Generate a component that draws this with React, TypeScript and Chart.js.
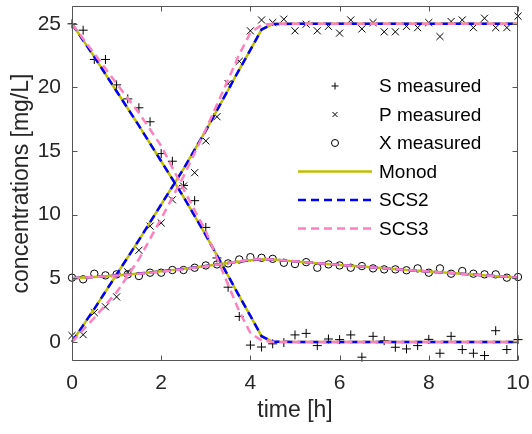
import React, { useEffect, useRef } from 'react';
import { Chart, registerables } from 'chart.js';

Chart.register(...registerables);

// ---- measured data (every 0.25 h) ----
const measTimes = [
  0, 0.25, 0.5, 0.75, 1, 1.25, 1.5, 1.75, 2, 2.25, 2.5, 2.75, 3, 3.25, 3.5, 3.75,
  4, 4.25, 4.5, 4.75, 5, 5.25, 5.5, 5.75, 6, 6.25, 6.5, 6.75, 7, 7.25, 7.5, 7.75,
  8, 8.25, 8.5, 8.75, 9, 9.25, 9.5, 9.75, 10,
];
const sMeasured = [
  25.0, 24.5, 22.2, 22.2, 20.2, 19.1, 18.4, 17.3, 14.8, 14.2, 12.3, 11.1, 9.0, 6.6, 4.3, 2.0,
  -0.25, -0.4, -0.15, -0.05, 0.55, 0.67, -0.29, 0.23, 0.18, 0.55, -1.2, 0.44, 0.1, -0.42, -0.55, -0.29,
  0.2, -0.89, 0.44, -0.6, -0.89, -1.07, 0.88, -0.6, 0.18,
];
const pMeasured = [
  0.5, 0.57, 2.3, 2.76, 3.54, 5.5, 7.2, 9.1, 9.35, 11.17, 12.25, 13.3, 15.8, 17.7, 20.3, 22.05,
  24.45, 25.3, 25.1, 25.36, 24.45, 24.97, 24.45, 24.8, 24.27, 25.3, 24.6, 25.1, 24.37, 24.37, 24.8, 24.7,
  25.1, 24.0, 25.18, 25.3, 24.7, 25.44, 24.7, 24.7, 25.6,
];
const xMeasured = [
  5.05, 4.92, 5.36, 5.23, 5.31, 5.31, 5.18, 5.44, 5.44, 5.65, 5.65, 5.83, 6.01, 6.09, 6.17, 6.48,
  6.66, 6.61, 6.53, 6.22, 6.12, 6.27, 5.83, 6.09, 6.01, 5.83, 5.96, 5.78, 5.7, 5.7, 5.63, 5.78,
  5.44, 5.78, 5.36, 5.57, 5.36, 5.31, 5.31, 5.05, 5.1,
];

// ---- model curves ----
const modelTimes = [0, 0.5, 1, 1.5, 2, 2.5, 3, 3.5, 3.75, 4, 4.25, 4.5, 5, 5.5, 6, 6.5, 7, 7.5, 8, 8.5, 9, 9.5, 10];

const monodS = [25, 22.4, 19.7, 17.0, 14.2, 11.4, 8.4, 5.2, 3.6, 2.05, 0.45, 0.02, 0, 0, 0, 0, 0, 0, 0, 0, 0, 0, 0];
const monodP = [0, 2.6, 5.3, 8.0, 10.8, 13.6, 16.6, 19.8, 21.4, 22.95, 24.55, 24.98, 25, 25, 25, 25, 25, 25, 25, 25, 25, 25, 25];
const monodX = [5.0, 5.1, 5.22, 5.37, 5.55, 5.74, 5.96, 6.2, 6.32, 6.42, 6.5, 6.48, 6.33, 6.19, 6.05, 5.92, 5.79, 5.66, 5.53, 5.41, 5.29, 5.17, 5.06];

const scs2S = [25, 22.4, 19.7, 17.0, 14.2, 11.4, 8.4, 5.2, 3.6, 2.05, 0.45, 0.02, 0, 0, 0, 0, 0, 0, 0, 0, 0, 0, 0];
const scs2P = [0, 2.6, 5.3, 8.0, 10.8, 13.6, 16.6, 19.8, 21.4, 22.95, 24.55, 24.98, 25, 25, 25, 25, 25, 25, 25, 25, 25, 25, 25];
const scs2X = [5.0, 5.1, 5.22, 5.37, 5.55, 5.74, 5.96, 6.2, 6.32, 6.42, 6.5, 6.48, 6.33, 6.19, 6.05, 5.92, 5.79, 5.66, 5.53, 5.41, 5.29, 5.17, 5.06];

const scs3S = [25, 22.65, 20.3, 18.0, 15.4, 12.0, 8.7, 4.5, 2.4, 0.7, 0.12, 0, 0, 0, 0, 0, 0, 0, 0, 0, 0, 0, 0];
const scs3P = [0, 1.9, 3.9, 6.5, 9.7, 13.0, 16.7, 20.6, 22.6, 24.3, 24.9, 25, 25, 25, 25, 25, 25, 25, 25, 25, 25, 25, 25];
const scs3X = [5.0, 5.1, 5.21, 5.35, 5.52, 5.71, 5.94, 6.2, 6.34, 6.46, 6.5, 6.47, 6.33, 6.19, 6.05, 5.92, 5.79, 5.66, 5.53, 5.41, 5.29, 5.17, 5.06];

const xTicks = [0, 2, 4, 6, 8, 10];
const yTicks = [0, 5, 10, 15, 20, 25];

const legendLabels = ['S measured', 'P measured', 'X measured', 'Monod', 'SCS2', 'SCS3'];

const FONT = '"Liberation Sans", Arial, Helvetica, sans-serif';
const TEXT = '#262626';
const FRAME = '#555555';
const OLIVE = '#bfbf00';
const BLUE = '#0000ff';
const PINK = '#ff7fbf';
const DASH = [8, 5];

const pts = (xs: number[], ys: number[]) => xs.map((x, i) => ({ x, y: ys[i] }));

const framePlugin = {
  id: 'frameTicks',
  afterDatasetsDraw(chart: any) {
    const { ctx, chartArea, scales } = chart;
    const l = Math.round(chartArea.left) + 0.5;
    const r = Math.round(chartArea.right) - 0.5;
    const t = Math.round(chartArea.top) + 0.5;
    const b = Math.round(chartArea.bottom) - 0.5;
    ctx.save();
    ctx.strokeStyle = FRAME;
    ctx.lineWidth = 1;
    ctx.beginPath();
    ctx.rect(l, t, r - l, b - t);
    const tl = 5;
    xTicks.forEach((v) => {
      const px = Math.round(scales.x.getPixelForValue(v)) + 0.5;
      ctx.moveTo(px, b); ctx.lineTo(px, b - tl);
      ctx.moveTo(px, t); ctx.lineTo(px, t + tl);
    });
    yTicks.forEach((v) => {
      const py = Math.round(scales.y.getPixelForValue(v)) + 0.5;
      ctx.moveTo(l, py); ctx.lineTo(l + tl, py);
      ctx.moveTo(r, py); ctx.lineTo(r - tl, py);
    });
    ctx.stroke();
    ctx.restore();
  },
  afterDraw(chart: any) {
    const { ctx } = chart;
    const ys = [86, 114.5, 143, 171.5, 200, 228.5];
    const mx = 335;
    const lx0 = 298, lx1 = 372, tx = 379;
    ctx.save();
    ctx.font = `19px ${FONT}`;
    ctx.fillStyle = '#000';
    ctx.textBaseline = 'middle';
    ctx.textAlign = 'left';
    legendLabels.forEach((lab, i) => {
      const y = ys[i];
      ctx.save();
      ctx.strokeStyle = '#000';
      ctx.lineWidth = 1;
      ctx.setLineDash([]);
      ctx.beginPath();
      if (i === 0) {
        ctx.moveTo(mx - 3.5, y); ctx.lineTo(mx + 3.5, y);
        ctx.moveTo(mx, y - 3.5); ctx.lineTo(mx, y + 3.5);
        ctx.stroke();
      } else if (i === 1) {
        ctx.moveTo(mx - 2.5, y - 2.5); ctx.lineTo(mx + 2.5, y + 2.5);
        ctx.moveTo(mx - 2.5, y + 2.5); ctx.lineTo(mx + 2.5, y - 2.5);
        ctx.stroke();
      } else if (i === 2) {
        ctx.arc(mx, y, 3.5, 0, Math.PI * 2);
        ctx.stroke();
      } else {
        ctx.lineWidth = 2.5;
        ctx.strokeStyle = i === 3 ? OLIVE : i === 4 ? BLUE : PINK;
        if (i > 3) ctx.setLineDash(DASH);
        ctx.moveTo(lx0, y); ctx.lineTo(lx1, y);
        ctx.stroke();
      }
      ctx.restore();
      ctx.fillText(lab, tx, y + 1);
    });
    ctx.restore();
  },
};

const zeroPad = (s: any) => {
  s.paddingTop = 0;
  s.paddingBottom = 0;
  s.paddingLeft = 0;
  s.paddingRight = 0;
};

export default function App() {
  const ref = useRef<HTMLCanvasElement | null>(null);

  useEffect(() => {
    if (!ref.current) return;
    const marker = (label: string, ys: number[], style: string, radius: number, order: number) => ({
      type: 'scatter',
      label,
      data: pts(measTimes, ys),
      pointStyle: style,
      pointRadius: radius,
      pointBorderColor: '#000',
      pointBackgroundColor: 'rgba(0,0,0,0)',
      pointBorderWidth: 1,
      showLine: false,
      clip: false,
      order,
    });
    const model = (label: string, ys: number[], color: string, dashed: boolean, order: number) => ({
      type: 'line',
      label,
      data: pts(modelTimes, ys),
      borderColor: color,
      borderWidth: 2.5,
      borderDash: dashed ? DASH : [],
      pointRadius: 0,
      fill: false,
      tension: 0,
      clip: false,
      order,
    });
    const chart = new Chart(ref.current, {
      type: 'scatter',
      data: {
        datasets: [
          marker('S measured', sMeasured, 'cross', 4.5, 9),
          marker('P measured', pMeasured, 'crossRot', 5, 8),
          marker('X measured', xMeasured, 'circle', 3.7, 7),
          model('Monod S', monodS, OLIVE, false, 6),
          model('Monod P', monodP, OLIVE, false, 6),
          model('Monod X', monodX, OLIVE, false, 6),
          model('SCS2 S', scs2S, BLUE, true, 5),
          model('SCS2 P', scs2P, BLUE, true, 5),
          model('SCS2 X', scs2X, BLUE, true, 5),
          model('SCS3 S', scs3S, PINK, true, 4),
          model('SCS3 P', scs3P, PINK, true, 4),
          model('SCS3 X', scs3X, PINK, true, 4),
        ] as any,
      },
      options: {
        animation: false,
        responsive: false,
        devicePixelRatio: 1,
        layout: { padding: { left: 0, right: 14, top: 3, bottom: 0 } },
        plugins: { legend: { display: false }, tooltip: { enabled: false } },
        scales: {
          x: {
            type: 'linear',
            min: 0,
            max: 10,
            afterBuildTicks: (s: any) => { s.ticks = xTicks.map((v) => ({ value: v })); },
            afterFit: (s: any) => { s.height = 73; zeroPad(s); },
            grid: { display: false, drawTicks: false },
            border: { display: false },
            ticks: { color: TEXT, font: { size: 21, family: FONT }, padding: 10, maxRotation: 0 },
            title: { display: true, text: 'time [h]', color: TEXT, font: { size: 23, family: FONT }, padding: { top: 0, bottom: 10 } },
          },
          y: {
            type: 'linear',
            min: -1.5,
            max: 26.4,
            afterBuildTicks: (s: any) => { s.ticks = yTicks.map((v) => ({ value: v })); },
            afterFit: (s: any) => { s.width = 72; zeroPad(s); },
            grid: { display: false, drawTicks: false },
            border: { display: false },
            ticks: { color: TEXT, font: { size: 21, family: FONT }, padding: 11 },
            title: { display: true, text: 'concentrations [mg/L]', color: TEXT, font: { size: 23, family: FONT }, padding: { top: 8, bottom: 0 } },
          },
        },
      } as any,
      plugins: [framePlugin],
    });
    return () => chart.destroy();
  }, []);

  return (
    <div style={{ position: 'fixed', left: 0, top: 0, width: 532, height: 434, background: '#fff' }}>
      <canvas ref={ref} width={532} height={434} style={{ width: 532, height: 434, display: 'block' }} />
    </div>
  );
}
